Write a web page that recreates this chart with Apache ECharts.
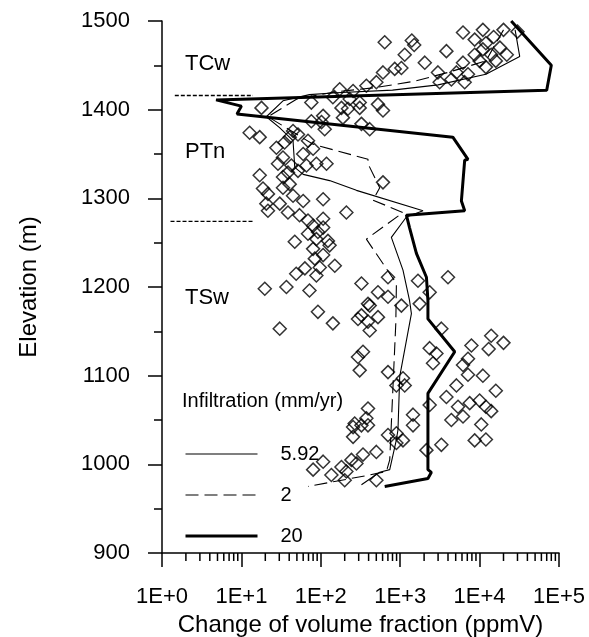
<!DOCTYPE html>
<html><head><meta charset="utf-8">
<script src="https://cdn.jsdelivr.net/npm/echarts@6/dist/echarts.min.js"></script>
<style>html,body{margin:0;padding:0;background:#fff}#c{width:589px;height:637px}</style>
</head><body><div id="c"></div>
<script>
// ---- data ----
const legendNames = ['5.92', '2', '20'];
// 5.92 mm/yr model curve
const thinX = [28000,32000,12000,3000,800,157,72,33.4,20.6,30,44.7,47,60,129,281,1938,1197,774,1084,1310,1384,986,938,896,738,552,325];
const thinY = [1490,1460,1440,1428,1422,1419,1417,1410,1392,1380,1365,1335,1327,1320,1309,1286,1279,1256,1219,1185,1170,1099,1039,1028,994,991,977];
// 2 mm/yr model curve
const dashX = [20000,12000,4000,1500,500,150,50,21.6,80,393,393,552,454,1084,375,896,880,738,670,413,69];
const dashY = [1490,1455,1442,1432,1425,1420,1412,1392,1361,1344,1339,1312,1298,1284,1254,1204,1159,1005,992,988,975];
// 20 mm/yr model curve
const thickX = [25000,80000,70000,4.8,10,8.8,4600,7140,6490,5900,6490,1197,1310,1600,2140,2235,2235,4860,2235,2235,2470,2235,638];
const thickY = [1500,1450,1422,1411,1404,1395,1369,1344,1343,1297,1286,1281,1267,1238,1211,1185,1164,1127,1080,994,991,984,975];
// unit boundaries
const bound1X = [1.45, 14]; const bound1Y = [1416, 1416];
const bound2X = [1.28, 14]; const bound2Y = [1274, 1274];
// measured points
const ptX = [638,1400,1500,1140,2040,3820,6180,8670,8670,6180,1035,853,607,501,375,255,173,142,76,231,309,182,220,190,309,607,525,2990,3140,4410,5110,7140,6490,17.9,107,102,76,112,325,413,12.7,17,27.6,35,44.7,51.6,40.6,69,80,60,33.4,28.9,42.6,66,88,118,
38.6,51.6,17,33.4,40.6,33.4,18.7,21.6,44.7,60,107,607,20.6,30.4,21.6,38.6,54,69,80,107,107,210,92,69,88,123,129,47,80,107,84,150,97,63,49,88,19.7,36.9,72,325,702,525,702,1675,4000,2350,
92,142,30.4,393,413,325,294,525,393,413,1035,1760,3300,340,294,309,2350,2860,2590,7890,7140,6180,7140,702,1084,896,1140,5110,3820,5350,7500,6180,4410,2350,393,375,267,325,1450,10000,
255,393,255,702,896,1450,896,1084,501,80,107,136,182,210,200,243,281,340,501,2140,3300,8670,
11000,20000,30000,15000,12000,18000,11000,14000,22000,10000,16000,12000,
14000,20000,13000,11000,16000,12000,14000,12000,10500];
const ptY = [1476,1478,1473,1462,1453,1466,1487,1479,1462,1453,1447,1446,1442,1431,1427,1421,1423,1414,1408,1412,1408,1402,1401,1391,1402,1399,1406,1442,1431,1434,1442,1440,1431,1402,1393,1386,1387,1378,1384,1378,1374,1369,1357,1363,1376,1372,1369,1365,1356,1350,1346,1339,1337,1337,1339,1339,
1329,1331,1326,1324,1316,1312,1311,1305,1303,1297,1299,1318,1294,1294,1286,1284,1281,1275,1269,1277,1267,1284,1262,1260,1254,1252,1247,1251,1243,1236,1232,1224,1222,1221,1215,1213,1198,1200,1196,1204,1211,1194,1189,1207,1211,1194,
1172,1159,1153,1181,1179,1168,1164,1166,1161,1151,1179,1181,1153,1127,1121,1106,1131,1125,1114,1134,1119,1112,1101,1104,1097,1089,1089,1089,1076,1065,1069,1054,1050,1067,1063,1052,1046,1044,1056,1072,
1042,1044,1031,1033,1035,1044,1024,1027,1014,994,1003,988,997,992,982,1005,1001,1011,982,1016,1022,1027,
1490,1490,1488,1482,1475,1470,1468,1462,1462,1455,1455,1448,
1145,1137,1130,1100,1083,1065,1060,1028,1045];

const zip = (a, b) => a.map((v, i) => [v, b[i]]);
const minorVals = [];
for (let k = 0; k < 5; k++) for (let m = 2; m <= 9; m++) minorVals.push([m * Math.pow(10, k), 900]);

const FONT = '"Liberation Sans", Arial, sans-serif';
const styles = {
  '5.92': {color: '#000', width: 1.1},
  '2': {color: '#000', width: 1.1, type: [13, 6]},
  '20': {color: '#000', width: 3}
};
const chart = echarts.init(document.getElementById('c'), null, {renderer: 'canvas'});
chart.setOption({
  animation: false,
  backgroundColor: '#fff',
  color: ['#000', '#000', '#000'],
  textStyle: {fontFamily: FONT, color: '#000'},
  grid: {left: 162, right: 30, top: 21, bottom: 84, containLabel: false, outerBoundsMode: 'none'},
  xAxis: {
    type: 'log', logBase: 10, min: 1, max: 100000,
    name: 'Change of volume fraction (ppmV)', nameLocation: 'middle', nameGap: 57,
    nameTextStyle: {fontSize: 24, fontFamily: FONT, color: '#000'},
    axisLine: {lineStyle: {color: '#000', width: 1.5}},
    axisTick: {show: true, length: 14, inside: false, lineStyle: {color: '#000', width: 1.5}},
    axisLabel: {fontSize: 22, fontFamily: FONT, color: '#000', margin: 33, hideOverlap: false,
      formatter: v => '1E+' + Math.round(Math.log10(v))},
    splitLine: {show: false}
  },
  yAxis: {
    type: 'value', min: 900, max: 1500, interval: 100,
    name: 'Elevation (m)', nameLocation: 'middle', nameGap: 121, nameRotate: 90,
    nameTextStyle: {fontSize: 24, fontFamily: FONT, color: '#000'},
    axisLine: {show: true, lineStyle: {color: '#000', width: 1.5}},
    axisTick: {show: true, length: 14, inside: false, lineStyle: {color: '#000', width: 1.5}},
    minorTick: {show: true, splitNumber: 2, length: 8, lineStyle: {color: '#000', width: 1.5}},
    axisLabel: {fontSize: 22, fontFamily: FONT, color: '#000', margin: 32, formatter: v => String(v)},
    splitLine: {show: false}
  },
  legend: {
    data: legendNames.map(n => ({name: n, lineStyle: styles[n]})),
    orient: 'vertical', left: 179, top: 439,
    itemWidth: 72, itemHeight: 20, itemGap: 21,
    itemStyle: {opacity: 0},
    textStyle: {fontSize: 20, fontFamily: FONT, color: '#000', padding: [0, 0, 0, 18]}
  },
  graphic: [
    {type: 'text', left: 182, top: 391, style: {text: 'Infiltration (mm/yr)', font: '20px ' + FONT, fill: '#000'}},
    {type: 'text', left: 185, top: 53, style: {text: 'TCw', font: '22px ' + FONT, fill: '#000'}},
    {type: 'text', left: 185, top: 141, style: {text: 'PTn', font: '22px ' + FONT, fill: '#000'}},
    {type: 'text', left: 185, top: 287, style: {text: 'TSw', font: '22px ' + FONT, fill: '#000'}}
  ],
  series: [
    {name: '5.92', type: 'line', data: zip(thinX, thinY), symbol: 'none', color: '#000', lineStyle: styles['5.92'], z: 3},
    {name: '2', type: 'line', data: zip(dashX, dashY), symbol: 'none', color: '#000', lineStyle: styles['2'], z: 3},
    {name: '20', type: 'line', data: zip(thickX, thickY), symbol: 'none', color: '#000', lineStyle: styles['20'], z: 3},
    {type: 'line', data: zip(bound1X, bound1Y), symbol: 'none', lineStyle: {color: '#000', width: 1.3, type: [4, 2]}, silent: true},
    {type: 'line', data: zip(bound2X, bound2Y), symbol: 'none', lineStyle: {color: '#000', width: 1.3, type: [4, 2]}, silent: true},
    {type: 'scatter', data: zip(ptX, ptY), symbol: 'diamond', symbolSize: 13,
      itemStyle: {color: 'rgba(0,0,0,0)', borderColor: '#000', borderWidth: 1.5}, z: 4},
    {type: 'custom', data: minorVals, clip: false, silent: true,
      renderItem: (params, api) => {
        const p = api.coord([api.value(0), api.value(1)]);
        return {type: 'line', shape: {x1: p[0], y1: p[1], x2: p[0], y2: p[1] + 8},
          style: {stroke: '#000', lineWidth: 1.5}};
      }}
  ]
});
</script></body></html>
